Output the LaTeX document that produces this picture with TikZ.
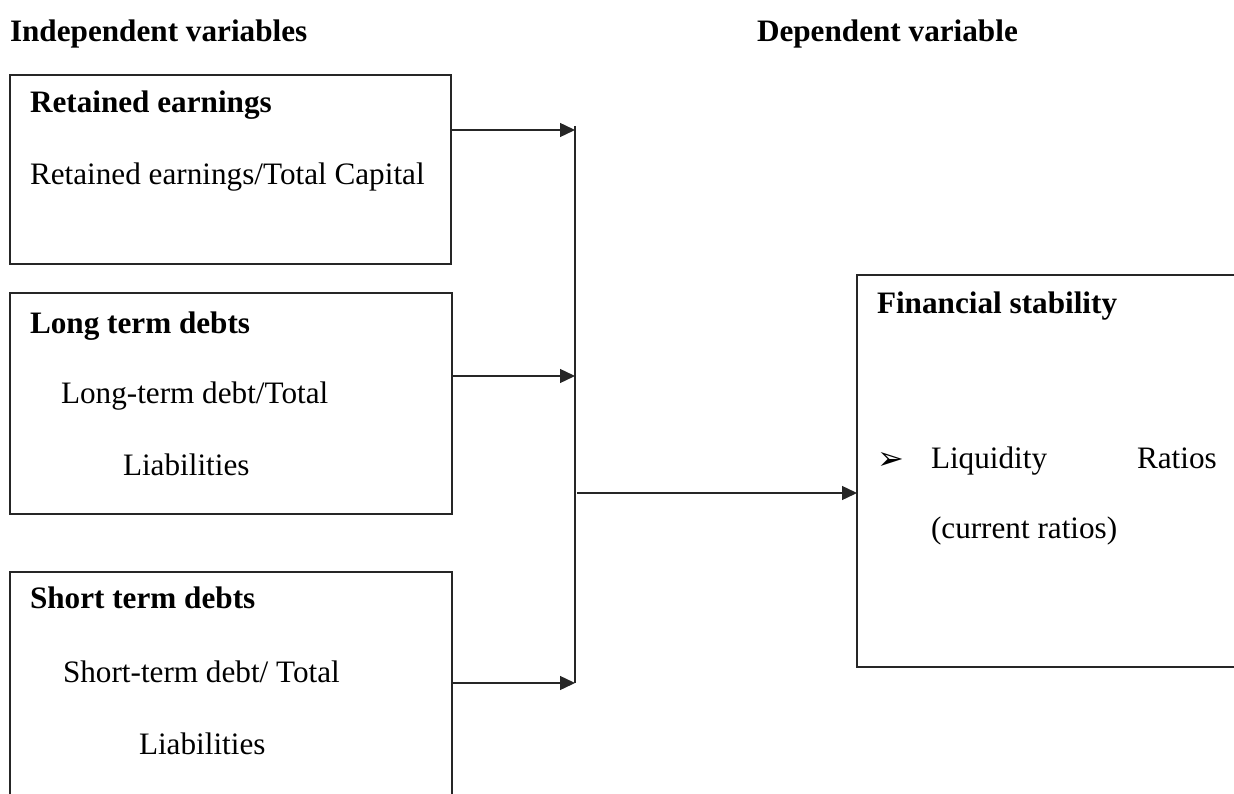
\documentclass[tikz,border=0pt]{standalone}
\usepackage{fontspec}
\setmainfont{Liberation Serif}
\newfontfamily\dejavu{DejaVu Sans}
\usetikzlibrary{arrows.meta}
\begin{document}
\begin{tikzpicture}[x=1pt,y=-1pt,
  every node/.style={inner sep=0pt,outer sep=0pt,font=\fontsize{31.2}{36}\selectfont},
  txt/.style={anchor=base west},
  hd/.style={anchor=base west,font=\fontsize{31.2}{36}\selectfont\bfseries},
  frame/.style={draw=black!85,line width=1.4pt},
  conn/.style={draw=black!85,line width=1.4pt},
  arr/.style={conn,-{Triangle[length=15pt,width=14pt]}}]
\useasboundingbox (0,0) rectangle (1234,794);
\clip (0,0) rectangle (1234,794);
% headers
\node[hd] (h1) at (10,42) {Independent variables};
\node[hd] (h2) at (757,42) {Dependent variable};
% boxes
\draw[frame] (10,75) rectangle (451,264);
\coordinate (b1) at (451,130);
\draw[frame] (10,293) rectangle (452,514);
\coordinate (b2) at (452,376);
\draw[frame] (10,572) rectangle (452,800);
\coordinate (b3) at (452,683);
\draw[frame] (857,275) rectangle (1240,667);
\coordinate (rb) at (857,493);
% box texts
\node[hd] (t1) at (30,113) {Retained earnings};
\node[txt] (s1) at (30,185) {Retained earnings/Total Capital};
\node[hd] (t2) at (30,333) {Long term debts};
\node[txt] (s2a) at (61,403) {Long-term debt/Total};
\node[txt] (s2b) at (123,475) {Liabilities};
\node[hd] (t3) at (30,608) {Short term debts};
\node[txt] (s3a) at (63,682) {Short-term debt/ Total};
\node[txt] (s3b) at (139,754) {Liabilities};
\node[hd] (t4) at (877,313) {Financial stability};
\node[txt,font=\dejavu\fontsize{32}{36}\selectfont] (bul) at (877,469) {➢};
\node[txt] (s4a) at (931,468) {Liquidity};
\node[txt] (s4b) at (1137,468) {Ratios};
\node[txt] (s4c) at (931,538) {(current ratios)};
% bus
\coordinate (vt) at (575,126);
\coordinate (vb) at (575,683);
\draw[conn] (vt) -- (vb);
\coordinate (v1) at (575,130);
\coordinate (v2) at (575,376);
\coordinate (v3) at (575,683);
\coordinate (vm) at (577,493);
\draw[arr] (b1) -- (v1);
\draw[arr] (b2) -- (v2);
\draw[arr] (b3) -- (v3);
\draw[arr] (vm) -- (rb);
\end{tikzpicture}
\end{document}
